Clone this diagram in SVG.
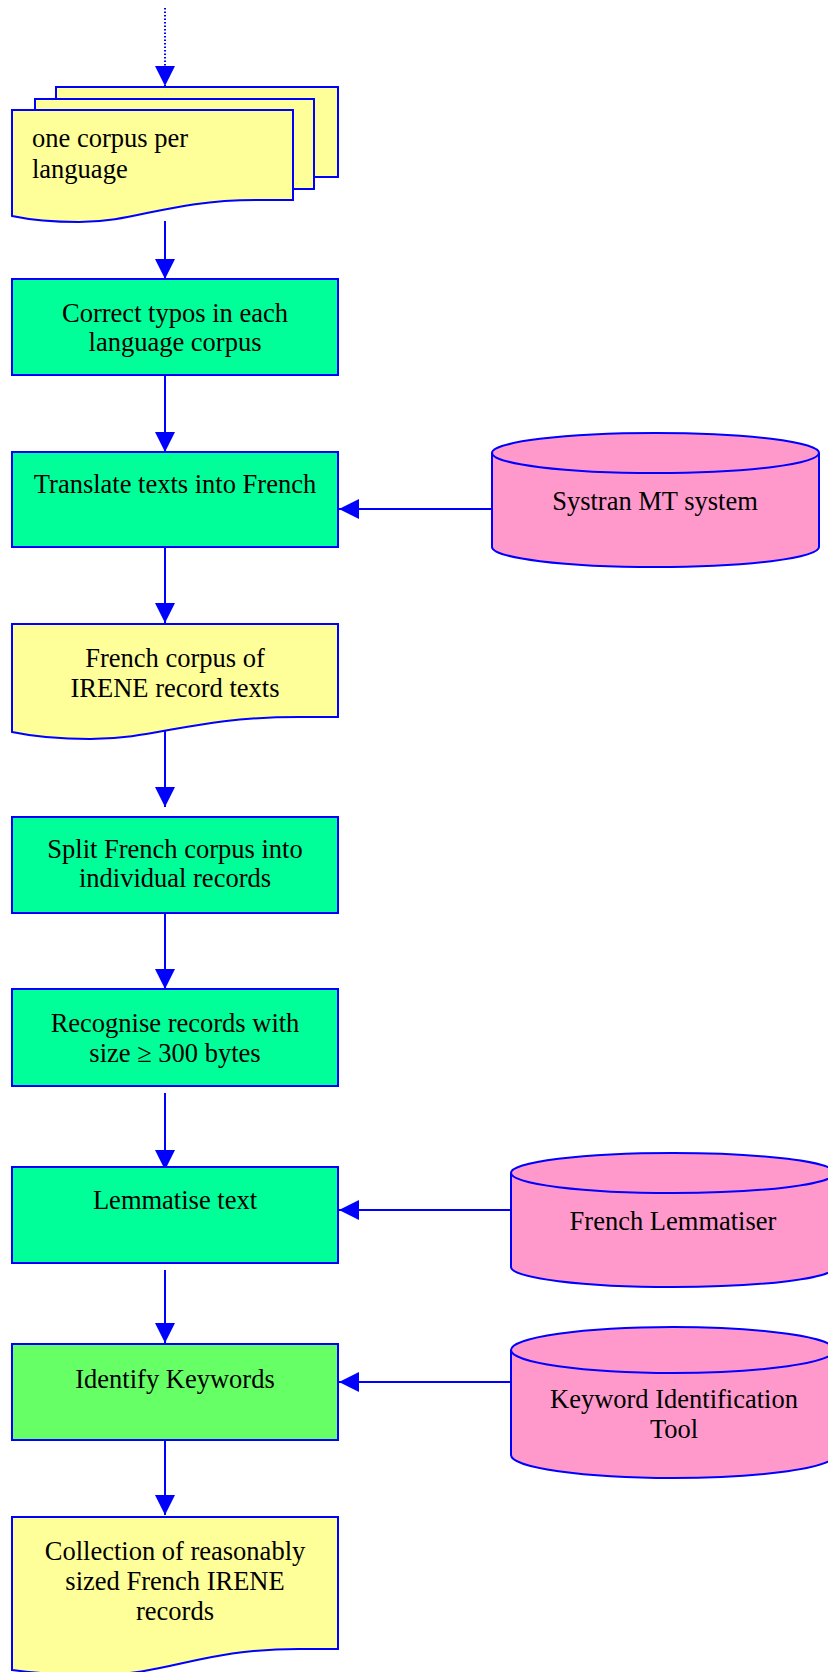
<svg xmlns="http://www.w3.org/2000/svg" width="828" height="1672" viewBox="0 0 828 1672">
<style>
.box{fill:#00FF99;stroke:#0000FF;stroke-width:2}
.box2{fill:#66FF66;stroke:#0000FF;stroke-width:2}
.doc{fill:#FFFF99;stroke:#0000FF;stroke-width:2}
.cyl{fill:#FF99CC;stroke:#0000FF;stroke-width:2}
.t{font-family:"Liberation Serif","Times New Roman",serif;font-size:26.5px;fill:#000}
.c{text-anchor:middle}
.ln{stroke:#0000FF;stroke-width:2;fill:none}
.ah{fill:#0000FF}
</style>
<defs>
<marker id="arr" markerWidth="20" markerHeight="20" refX="20" refY="10" orient="auto" markerUnits="userSpaceOnUse">
<path class="ah" d="M0,0 L20,10 L0,20 Z"/>
</marker>
</defs>
<g id="connectors">
<line class="ln" x1="165" y1="8" x2="165" y2="86" stroke-dasharray="1.5,2" marker-end="url(#arr)"/>
<line class="ln" x1="165" y1="221" x2="165" y2="279" marker-end="url(#arr)"/>
<line class="ln" x1="165" y1="375" x2="165" y2="452" marker-end="url(#arr)"/>
<line class="ln" x1="165" y1="547" x2="165" y2="623" marker-end="url(#arr)"/>
<line class="ln" x1="165" y1="730" x2="165" y2="807" marker-end="url(#arr)"/>
<line class="ln" x1="165" y1="913" x2="165" y2="989" marker-end="url(#arr)"/>
<line class="ln" x1="165" y1="1093" x2="165" y2="1170" marker-end="url(#arr)"/>
<line class="ln" x1="165" y1="1270" x2="165" y2="1343" marker-end="url(#arr)"/>
<line class="ln" x1="165" y1="1440" x2="165" y2="1515" marker-end="url(#arr)"/>
<line class="ln" x1="492" y1="509" x2="339" y2="509" marker-end="url(#arr)"/>
<line class="ln" x1="511" y1="1210" x2="339" y2="1210" marker-end="url(#arr)"/>
<line class="ln" x1="511" y1="1382" x2="339" y2="1382" marker-end="url(#arr)"/>
</g>
<g id="corpora">
<rect class="doc" x="56" y="87" width="282" height="90"/>
<rect class="doc" x="35" y="99" width="279" height="90"/>
<path class="doc" d="M12,110 H293 V200 H259 C167,200 138,222 79,222 Q40,222 12,216 Z"/>
<text class="t" x="32" y="147">one corpus per</text>
<text class="t" x="32" y="178">language</text>
</g>
<g id="correct">
<rect class="box" x="12" y="279" width="326" height="96"/>
<text class="t c" x="175" y="322">Correct typos in each</text>
<text class="t c" x="175" y="351">language corpus</text>
</g>
<g id="translate">
<rect class="box" x="12" y="452" width="326" height="95"/>
<text class="t c" x="175" y="493">Translate texts into French</text>
</g>
<g id="systran">
<path class="cyl" d="M492,453 V547 A163.5,20 0 0 0 819,547 V453 A163.5,20 0 0 0 492,453 Z"/>
<path class="cyl" d="M492,453 A163.5,20 0 0 0 819,453"/>
<text class="t c" x="655" y="510">Systran MT system</text>
</g>
<g id="frenchcorpus">
<path class="doc" d="M12,624 H338 V717 H299 C191,717 159,739 90,739 Q45,739 12,732 Z"/>
<text class="t c" x="175" y="667">French corpus of</text>
<text class="t c" x="175" y="697">IRENE record texts</text>
</g>
<g id="split">
<rect class="box" x="12" y="817" width="326" height="96"/>
<text class="t c" x="175" y="858">Split French corpus into</text>
<text class="t c" x="175" y="887">individual records</text>
</g>
<g id="recognise">
<rect class="box" x="12" y="989" width="326" height="97"/>
<text class="t c" x="175" y="1032">Recognise records with</text>
<text class="t c" x="175" y="1062">size ≥ 300 bytes</text>
</g>
<g id="lemmatise">
<rect class="box" x="12" y="1167" width="326" height="96"/>
<text class="t c" x="175" y="1209">Lemmatise text</text>
</g>
<g id="lemmatiser">
<path class="cyl" d="M511,1173 V1267 A162,20 0 0 0 835,1267 V1173 A162,20 0 0 0 511,1173 Z"/>
<path class="cyl" d="M511,1173 A162,20 0 0 0 835,1173"/>
<text class="t c" x="673" y="1230">French Lemmatiser</text>
</g>
<g id="identify">
<rect class="box2" x="12" y="1344" width="326" height="96"/>
<text class="t c" x="175" y="1388">Identify Keywords</text>
</g>
<g id="keywordtool">
<path class="cyl" d="M511,1350 V1455 A162,23 0 0 0 835,1455 V1350 A162,23 0 0 0 511,1350 Z"/>
<path class="cyl" d="M511,1350 A162,23 0 0 0 835,1350"/>
<text class="t c" x="674" y="1408">Keyword Identification</text>
<text class="t c" x="674" y="1438">Tool</text>
</g>
<g id="collection">
<path class="doc" d="M12,1517 H338 V1649 H299 C200,1649 170,1675 95,1675 Q50,1675 12,1670 Z"/>
<text class="t c" x="175" y="1560">Collection of reasonably</text>
<text class="t c" x="175" y="1590">sized French IRENE</text>
<text class="t c" x="175" y="1620">records</text>
</g>
</svg>
